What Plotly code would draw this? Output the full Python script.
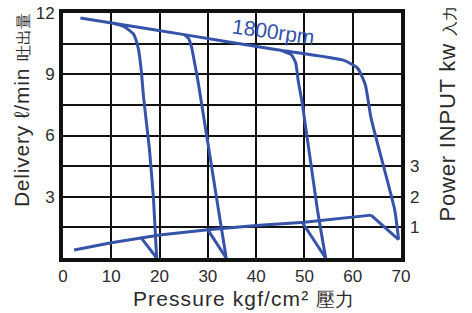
import plotly.graph_objects as go

# ---- data ----
pressure_ticks = [0, 10, 20, 30, 40, 50, 60, 70]
delivery_ticks = [0, 1.5, 3, 4.5, 6, 7.5, 9, 10.5, 12]
delivery_ticktext = ["", "", "3", "", "6", "", "9", "", "12"]
power_ticks = [1, 2, 3]

# main delivery curve (1800 rpm) with the highest cut-off setting
main_p = [3.6, 10.4, 25.1, 44.3, 58.2, 61.0, 62.6, 63.8, 68.7, 69.5]
main_q = [11.75, 11.5, 10.94, 10.2, 9.68, 9.3, 8.5, 6.85, 2.35, 0.9]

flow1_p = [10.4, 12.5, 14.6, 15.6, 16.2, 16.7, 17.9, 18.75, 19.4]
flow1_q = [11.5, 11.35, 10.97, 10.26, 9.2, 7.84, 5.33, 2.85, 0.0]

flow2_p = [25.1, 26.0, 26.6, 27.3, 28.0, 32.2, 33.8]
flow2_q = [10.94, 10.75, 10.35, 9.5, 8.6, 2.35, 0.0]

flow3_p = [45.5, 47.3, 48.2, 48.7, 49.6, 52.7, 54.4]
flow3_q = [10.13, 9.95, 9.55, 8.7, 7.5, 2.35, 0.0]

# power input (kW)
power_p = [2.3, 10.0, 20.0, 30.0, 40.0, 50.0, 63.8]
power_w = [0.26, 0.5, 0.75, 0.92, 1.06, 1.17, 1.4]

drop1_p = [16.2, 19.4]
drop1_w = [0.66, 0.0]
drop2_p = [30.0, 33.8]
drop2_w = [0.92, 0.0]
drop3_p = [49.6, 54.4]
drop3_w = [1.15, 0.0]
drop4_p = [63.8, 69.5]
drop4_w = [1.4, 0.6]

BLUE = "#3553a8"
INK = "#2b2b2b"
FONT = "Liberation Sans, Arial, sans-serif"
SP = "letter-spacing:0.8px"

fig = go.Figure()
line = dict(color=BLUE, width=3, shape="spline", smoothing=0.5)
for px_, q_ in [(main_p, main_q), (flow1_p, flow1_q), (flow2_p, flow2_q), (flow3_p, flow3_q)]:
    fig.add_trace(go.Scatter(x=px_, y=q_, mode="lines", line=line, yaxis="y",
                             showlegend=False, hoverinfo="skip"))
pline = dict(color=BLUE, width=3)
for px_, w_ in [(power_p, power_w), (drop1_p, drop1_w), (drop2_p, drop2_w),
                (drop3_p, drop3_w), (drop4_p, drop4_w)]:
    fig.add_trace(go.Scatter(x=px_, y=w_, mode="lines", line=pline, yaxis="y2",
                             showlegend=False, hoverinfo="skip"))

fig.update_layout(
    width=472, height=313,
    margin=dict(l=63, r=71, t=13, b=55, autoexpand=False),
    paper_bgcolor="white", plot_bgcolor="white",
    font=dict(family=FONT, color=INK, size=17),
    xaxis=dict(range=[0, 70], tickvals=pressure_ticks, showgrid=True, automargin=False,
               gridcolor="#111", gridwidth=2, zeroline=False,
               showline=True, mirror=True, linecolor="#111", linewidth=4,
               ticks="", ticklabelstandoff=0, tickfont=dict(size=17, color=INK)),
    yaxis=dict(range=[0, 12], tickvals=delivery_ticks, ticktext=delivery_ticktext,
               automargin=False,
               showgrid=True, gridcolor="#111", gridwidth=2, zeroline=False,
               showline=True, mirror=True, linecolor="#111", linewidth=4,
               ticks="", ticklabelstandoff=1, tickfont=dict(size=17, color=INK)),
    yaxis2=dict(range=[0, 8], overlaying="y", side="right", tickvals=power_ticks,
                automargin=False,
                showgrid=False, zeroline=False, showline=False, ticks="",
                ticklabelstandoff=8, tickfont=dict(size=17, color=INK)),
    annotations=[
        dict(text="1800rpm", x=43.5, y=11.1, xref="x", yref="y", showarrow=False,
             textangle=8, xanchor="center", yanchor="middle",
             font=dict(size=21, color=BLUE, family=FONT)),
        dict(text=f"<span style='{SP}'>Delivery ℓ/min </span><span style='font-size:16px'>吐出量</span>",
             x=-0.124, y=0.604, xref="paper", yref="paper", showarrow=False,
             xanchor="center", yanchor="middle",
             textangle=-90, font=dict(size=21, color=INK, family=FONT)),
        dict(text="<span style='letter-spacing:1.1px'>Pressure kgf/cm² </span><span style='font-size:19px'>壓力</span>",
             x=0.533, y=-0.166, xref="paper", yref="paper", showarrow=False,
             xanchor="center", yanchor="middle",
             font=dict(size=21, color=INK, family=FONT)),
        dict(text=f"<span style='{SP}'>Power INPUT kw </span><span style='font-size:15px'>入力</span>",
             x=1.136, y=0.59, xref="paper", yref="paper", showarrow=False,
             xanchor="center", yanchor="middle",
             textangle=-90, font=dict(size=22, color=INK, family=FONT)),
    ],
)

fig.write_html("out.html", config={"displayModeBar": False},
               post_script="document.body.style.margin='0';")
